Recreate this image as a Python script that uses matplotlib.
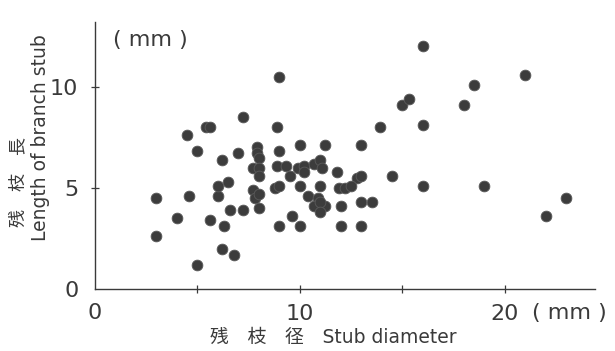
import numpy as np
import matplotlib
matplotlib.use("Agg")
import matplotlib.pyplot as plt

# stub diameter (mm) and stub length (mm)
diameter = [3.0, 3.0, 4.0, 4.5, 4.6, 5.0, 5.0, 5.4, 5.6, 5.6,
            6.0, 6.0, 6.2, 6.2, 6.3, 6.5, 6.6, 6.8, 7.0, 7.2,
            7.2, 7.7, 7.9, 7.9, 8.0, 8.0, 8.0, 7.7, 7.8, 8.0,
            8.0, 8.9, 9.0, 9.0, 8.9, 9.3, 9.5, 9.9, 10.2, 10.2,
            10.7, 11.0, 11.1, 10.0, 11.2, 11.8, 12.8, 13.0, 13.0, 8.8,
            9.0, 10.0, 11.0, 11.9, 12.2, 12.5, 10.4, 10.9, 10.7, 11.2,
            11.0, 11.0, 12.0, 13.0, 13.5, 9.6, 9.0, 10.0, 12.0, 13.0,
            13.9, 14.5, 15.0, 15.3, 16.0, 16.0, 16.0, 18.0, 18.5, 21.0,
            19.0, 22.0, 23.0]
length = [4.5, 2.6, 3.5, 7.6, 4.6, 6.8, 1.2, 8.0, 8.0, 3.4,
          4.6, 5.1, 6.4, 2.0, 3.1, 5.3, 3.9, 1.7, 6.7, 3.9,
          8.5, 6.0, 7.0, 6.7, 6.5, 6.0, 5.6, 4.9, 4.5, 4.7,
          4.0, 8.0, 10.5, 6.8, 6.1, 6.1, 5.6, 6.0, 6.1, 5.8,
          6.2, 6.4, 6.0, 7.1, 7.1, 5.8, 5.5, 5.6, 7.1, 5.0,
          5.1, 5.1, 5.1, 5.0, 5.0, 5.1, 4.6, 4.5, 4.1, 4.1,
          4.3, 3.8, 4.1, 4.3, 4.3, 3.6, 3.1, 3.1, 3.1, 3.1,
          8.0, 5.6, 9.1, 9.4, 12.0, 8.1, 5.1, 9.1, 10.1, 10.6,
          5.1, 3.6, 4.5]

x_ticks = [5, 10, 15, 20]
x_labels = ["", "10", "", "20"]
y_ticks = [0, 5, 10]
y_labels = ["0", "5", "10"]

fams = ['DejaVu Sans', 'Noto Sans CJK JP']
plt.rcParams['font.family'] = fams
ink = '#3a3a3a'

fig = plt.figure(figsize=(6.15, 3.51), dpi=100)
ax = fig.add_axes([95/615, 62/351, 500/615, 267/351])
ax.scatter(diameter, length, s=60, color='#3c3c3c', edgecolors='#5a5a5a',
           linewidths=0.6, zorder=3, clip_on=False)

ax.set_xlim(0, 24.4)
ax.set_ylim(0, 13.2)
for side in ['top', 'right']:
    ax.spines[side].set_visible(False)
for side in ['left', 'bottom']:
    ax.spines[side].set_color(ink)
    ax.spines[side].set_linewidth(1.0)

ax.set_xticks(x_ticks)
ax.set_xticklabels(x_labels)
ax.set_yticks(y_ticks)
ax.set_yticklabels(y_labels)
ax.tick_params(direction='inout', length=6, width=0.9, color=ink,
               labelsize=16, labelcolor=ink)
ax.tick_params(axis='x', pad=8)
ax.tick_params(axis='y', pad=9)
ax.yaxis.get_major_ticks()[0].tick1line.set_visible(False)

# x origin label and units
fig.text(95/615, 1 - 313/351, "0", fontsize=16, color=ink, ha='center', va='center')
fig.text(569/615, 1 - 313/351, "( mm )", fontsize=16, color=ink, ha='center', va='center')
fig.text(150/615, 1 - 40/351, "( mm )", fontsize=16, color=ink, ha='center', va='center')

# axis titles
fig.text(333/615, 1 - 337/351, "残　枝　径　Stub diameter", fontsize=13.5,
         color=ink, ha='center', va='center')
fig.text(18/615, 1 - 182/351, "残　枝　長", fontsize=13, color=ink,
         rotation=90, ha='center', va='center')
fig.text(41/615, 1 - 138/351, "Length of branch stub", fontsize=13.5,
         color=ink, rotation=90, ha='center', va='center')

fig.savefig("out.png", dpi=100)
